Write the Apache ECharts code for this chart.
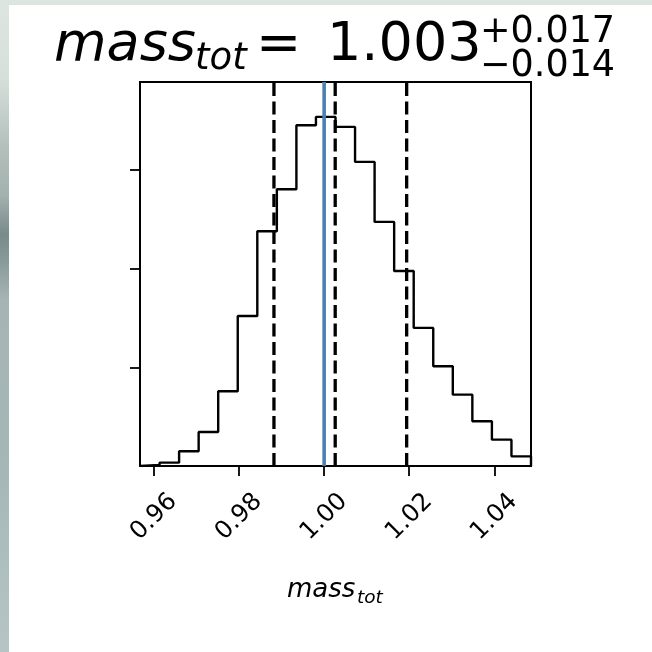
<!DOCTYPE html>
<html>
<head>
<meta charset="utf-8">
<script src="https://cdn.jsdelivr.net/npm/echarts@6/dist/echarts.min.js"></script>
<style>
html,body{margin:0;padding:0;background:#fff;}
#chart{width:652px;height:652px;}
</style>
</head>
<body>
<div id="chart"></div>
<script>
// ---- data ----
var histLo = 0.95671;           // histogram range (left edge)
var histHi = 1.04863;           // histogram range (right edge)
var binCounts = [1.0, 3.4, 14.9, 34.5, 75.7, 152.0, 237.9, 280.4, 345.3, 353.7,
                 343.6, 308.1, 247.3, 197.6, 139.9, 101.0, 72.3, 45.3, 26.7, 9.8];
var quantiles = [0.9882, 1.0026, 1.0194];   // dashed lines (16%, 50%, 84%)
var truthValue = 1.0;                        // blue truth line
var xTickValues = [0.96, 0.98, 1.00, 1.02, 1.04];
var yTickValues = [100, 200, 300];
var paramLabel = 'mass';
var paramSub = 'tot';
var titleMedian = '1.003';
var titlePlus = '+0.017';
var titleMinus = '\u22120.014';

// ---- build step outline ----
var nb = binCounts.length;
var bw = (histHi - histLo) / nb;
var stepData = [[histLo, 0]];
for (var i = 0; i < nb; i++) stepData.push([histLo + i * bw, binCounts[i]]);
stepData.push([histHi, binCounts[nb - 1]]);
stepData.push([histHi, 0]);
var yMax = 1.1 * Math.max.apply(null, binCounts);

var FF = 'DejaVu Sans';

function vline(v, color, type, w) {
  return {type: 'line', data: [[v, 0], [v, yMax]], symbol: 'none', silent: true,
    lineStyle: {color: color, width: w, type: type}, z: 3};
}

function txt(x, y, s, size, italic) {
  return {type: 'text', x: x, y: y, silent: true, z: 100,
    style: {text: s, fontSize: size, fontFamily: FF, fontStyle: italic ? 'italic' : 'normal',
      fill: '#000', align: 'left', verticalAlign: 'middle'}};
}

var series = [{
  type: 'line', step: 'end', data: stepData, symbol: 'none', silent: true,
  lineStyle: {color: '#000', width: 2.4}, clip: true, z: 2
}];
quantiles.forEach(function (q) { series.push(vline(q, '#000', [13, 5.5], 3.3)); });
series.push(vline(truthValue, '#4682b4', 'solid', 3.6));

var chart = echarts.init(document.getElementById('chart'), null, {renderer: 'canvas'});
chart.setOption({
  animation: false,
  backgroundColor: '#ffffff',
  graphic: [
    {type: 'rect', shape: {x: 0, y: 0, width: 652, height: 5}, style: {fill: '#dde5e0'}, silent: true, z: -10},
    {type: 'rect', shape: {x: 0, y: 0, width: 9, height: 652}, silent: true, z: -10,
      style: {fill: new echarts.graphic.LinearGradient(0, 0, 0, 1, [
        {offset: 0, color: '#dde5e0'}, {offset: 0.12, color: '#d6e0db'},
        {offset: 0.22, color: '#b4c1bd'}, {offset: 0.3, color: '#a3b1ae'},
        {offset: 0.36, color: '#7a8a89'}, {offset: 0.4, color: '#8a9a99'},
        {offset: 0.46, color: '#a6b5b4'}, {offset: 0.7, color: '#a6b6b6'},
        {offset: 1, color: '#b6c4c4'}])}},
    txt(54, 46.2, paramLabel, 54, true),
    txt(195, 59.2, paramSub, 37, true),
    txt(256, 46.2, '=', 54, false),
    txt(327, 46.2, titleMedian, 54, false),
    txt(480, 32.5, titlePlus, 36.5, false),
    txt(480, 67, titleMinus, 36.5, false),
    txt(287, 590, paramLabel, 26, true),
    txt(357, 597.8, paramSub, 18.5, true)
  ],
  grid: {left: 140, top: 82, width: 391, height: 384, show: true,
    borderColor: '#000', borderWidth: 2, backgroundColor: 'transparent', containLabel: false},
  xAxis: {
    type: 'value', min: histLo, max: histHi,
    splitLine: {show: false},
    axisLine: {show: true, lineStyle: {color: '#000', width: 2}},
    axisTick: {show: true, inside: false, length: 10, customValues: xTickValues,
      lineStyle: {color: '#000', width: 1.8}},
    axisLabel: {show: true, customValues: xTickValues, rotate: 45, align: 'center',
      verticalAlign: 'middle', margin: 51, fontSize: 24.5, fontFamily: FF, color: '#000',
      formatter: function (v) { return v.toFixed(2); }}
  },
  yAxis: {
    type: 'value', min: 0, max: yMax,
    splitLine: {show: false},
    axisLine: {show: true, lineStyle: {color: '#000', width: 2}},
    axisTick: {show: true, inside: false, length: 10, customValues: yTickValues,
      lineStyle: {color: '#000', width: 1.8}},
    axisLabel: {show: false}
  },
  series: series
});
</script>
</body>
</html>
